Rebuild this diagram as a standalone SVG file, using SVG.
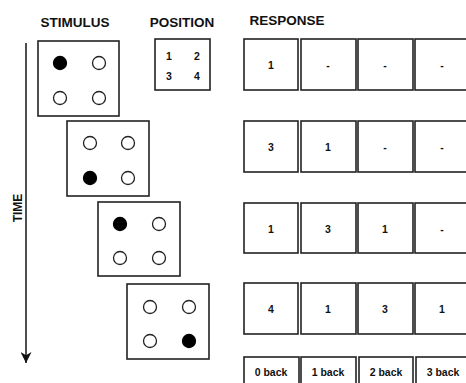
<svg xmlns="http://www.w3.org/2000/svg" width="466" height="383" viewBox="0 0 466 383">
<defs>
<style>
.hdr{font-family:"Liberation Sans",Arial,sans-serif;font-weight:bold;font-size:13.5px;fill:#111;text-anchor:middle}
.num{font-family:"Liberation Sans",Arial,sans-serif;font-weight:bold;font-size:10.5px;fill:#111;text-anchor:middle;dominant-baseline:central}
.box{fill:#fff;stroke:#222;stroke-width:1.6}
.o{fill:#fff;stroke:#222;stroke-width:1.3}
.f{fill:#000;stroke:#000;stroke-width:1.3}
.ax{stroke:#222;stroke-width:1.6;fill:none}
</style>
<marker id="ah" viewBox="0 0 10 10" refX="10" refY="5" markerWidth="11" markerHeight="11" markerUnits="userSpaceOnUse" orient="auto">
<path d="M0,0 L10,5 L0,10 L3,5 Z" fill="#111"/>
</marker>
</defs>
<rect width="466" height="383" fill="#fff"/>
<text class="hdr" x="75" y="27">STIMULUS</text>
<text class="hdr" x="182" y="27">POSITION</text>
<text class="hdr" x="287" y="25">RESPONSE</text>
<g id="connectors">
<line class="ax" x1="26" y1="43" x2="26" y2="363" marker-end="url(#ah)"/>
</g>
<text class="hdr" style="font-size:12px" transform="translate(22,208) rotate(-90)">TIME</text>
<g id="stim1">
<rect class="box" x="38" y="41" width="81" height="75"/>
<circle class="f" cx="60" cy="63" r="6.5"/><circle class="o" cx="99" cy="63" r="6.5"/>
<circle class="o" cx="60" cy="98" r="6.5"/><circle class="o" cx="99" cy="98" r="6.5"/>
</g>
<g id="stim2">
<rect class="box" x="67" y="121" width="82" height="75"/>
<circle class="o" cx="90" cy="143" r="6.5"/><circle class="o" cx="128" cy="143" r="6.5"/>
<circle class="f" cx="90" cy="178" r="6.5"/><circle class="o" cx="128" cy="178" r="6.5"/>
</g>
<g id="stim3">
<rect class="box" x="98" y="202" width="82" height="74"/>
<circle class="f" cx="120" cy="224" r="6.5"/><circle class="o" cx="159" cy="224" r="6.5"/>
<circle class="o" cx="120" cy="258" r="6.5"/><circle class="o" cx="159" cy="258" r="6.5"/>
</g>
<g id="stim4">
<rect class="box" x="127" y="284" width="82" height="75"/>
<circle class="o" cx="150" cy="307" r="6.5"/><circle class="o" cx="189" cy="307" r="6.5"/>
<circle class="o" cx="150" cy="341" r="6.5"/><circle class="f" cx="189" cy="341" r="6.5"/>
</g>
<g id="position">
<rect class="box" x="155" y="39" width="55" height="51"/>
<text class="num" x="169" y="56">1</text><text class="num" x="197" y="56">2</text>
<text class="num" x="169" y="76">3</text><text class="num" x="197" y="76">4</text>
</g>
<g id="resp1">
<rect class="box" x="244" y="39" width="54" height="51"/><text class="num" x="271" y="65">1</text>
<rect class="box" x="301" y="39" width="55" height="51"/><text class="num" x="328" y="65">-</text>
<rect class="box" x="358" y="39" width="55" height="51"/><text class="num" x="385" y="65">-</text>
<rect class="box" x="415" y="39" width="55" height="51"/><text class="num" x="442" y="65">-</text>
</g>
<g id="resp2">
<rect class="box" x="244" y="121" width="54" height="51"/><text class="num" x="271" y="147">3</text>
<rect class="box" x="301" y="121" width="55" height="51"/><text class="num" x="328" y="147">1</text>
<rect class="box" x="358" y="121" width="55" height="51"/><text class="num" x="385" y="147">-</text>
<rect class="box" x="415" y="121" width="55" height="51"/><text class="num" x="442" y="147">-</text>
</g>
<g id="resp3">
<rect class="box" x="244" y="203" width="54" height="50"/><text class="num" x="271" y="229">1</text>
<rect class="box" x="301" y="203" width="55" height="50"/><text class="num" x="328" y="229">3</text>
<rect class="box" x="358" y="203" width="55" height="50"/><text class="num" x="385" y="229">1</text>
<rect class="box" x="415" y="203" width="55" height="50"/><text class="num" x="442" y="229">-</text>
</g>
<g id="resp4">
<rect class="box" x="244" y="283" width="54" height="51"/><text class="num" x="271" y="309">4</text>
<rect class="box" x="301" y="283" width="55" height="51"/><text class="num" x="328" y="309">1</text>
<rect class="box" x="358" y="283" width="55" height="51"/><text class="num" x="385" y="309">3</text>
<rect class="box" x="415" y="283" width="55" height="51"/><text class="num" x="442" y="309">1</text>
</g>
<g id="labels">
<rect class="box" x="244" y="357" width="55" height="30"/><text class="num" x="271" y="372">0 back</text>
<rect class="box" x="301" y="357" width="55" height="30"/><text class="num" x="328" y="372">1 back</text>
<rect class="box" x="359" y="357" width="54" height="30"/><text class="num" x="386" y="372">2 back</text>
<rect class="box" x="416" y="357" width="55" height="30"/><text class="num" x="443" y="372">3 back</text>
</g>
</svg>
